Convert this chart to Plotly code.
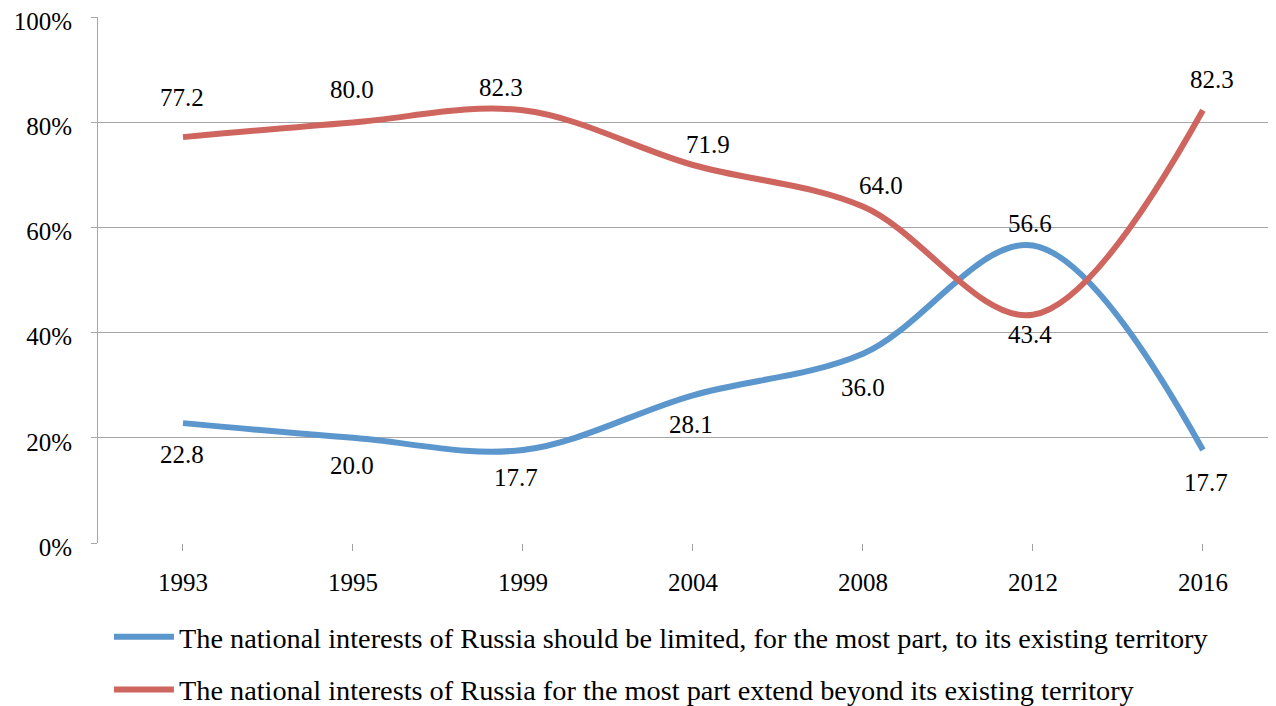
import plotly.graph_objects as go

years = ["1993", "1995", "1999", "2004", "2008", "2012", "2016"]
limited = [22.8, 20.0, 17.7, 28.1, 36.0, 56.6, 17.7]
extend = [77.2, 80.0, 82.3, 71.9, 64.0, 43.4, 82.3]
name_limited = "The national interests of Russia should be limited, for the most part, to its existing territory"
name_extend = "The national interests of Russia for the most part extend beyond its existing territory"

# label offsets (px) as placed in the original
red_dx = [-1, -1, -22, 15, 18, -3, 9]
red_dy = [-40, -33, -23, -21, -21, 20, -31]
blue_dx = [-1, -1, -7, -2, 0, -3, 3]
blue_dy = [31, 28, 28, 29, 34, -22, 33]

BLUE = "#5B96CC"
RED = "#CF655F"
FONT = "'Liberation Serif', 'Times New Roman', Times, serif"
xs = list(range(len(years)))

fig = go.Figure()
fig.add_trace(go.Scatter(x=xs, y=limited, mode="lines", name=name_limited,
                         line=dict(color=BLUE, width=6, shape="spline", smoothing=1),
                         legendgroup="a", hoverinfo="skip"))
fig.add_trace(go.Scatter(x=xs, y=extend, mode="lines", name=name_extend,
                         line=dict(color=RED, width=6, shape="spline", smoothing=1),
                         legendgroup="b", hoverinfo="skip"))

ann = []
for i in xs:
    ann.append(dict(x=i, y=extend[i], text=f"{extend[i]:.1f}", showarrow=False,
                    xshift=red_dx[i], yshift=-red_dy[i], font=dict(family=FONT, size=25, color="black")))
    ann.append(dict(x=i, y=limited[i], text=f"{limited[i]:.1f}", showarrow=False,
                    xshift=blue_dx[i], yshift=-blue_dy[i], font=dict(family=FONT, size=25, color="black")))

fig.update_layout(
    width=1268, height=698,
    margin=dict(l=90, r=0, t=9, b=163, autoexpand=False),
    paper_bgcolor="white", plot_bgcolor="white",
    font=dict(family=FONT, size=25, color="black"),
    annotations=ann,
    showlegend=True,
    legend=dict(x=0.0093, xanchor="left", y=-0.1307, yanchor="top",
                font=dict(family=FONT, size=28.3, color="black"),
                traceorder="grouped", tracegroupgap=13,
                bgcolor="rgba(0,0,0,0)", itemwidth=60),
    xaxis=dict(range=[-0.5, 6.43], tickmode="array", tickvals=xs, ticktext=years,
               showgrid=False, zeroline=False, showline=False,
               ticks="outside", ticklen=7, tickcolor="#A0A0A0", ticklabelstandoff=10,
               tickfont=dict(family=FONT, size=25, color="black")),
    yaxis=dict(range=[0, 100.05], tickmode="array", tickvals=[0, 20, 40, 60, 80, 100],
               ticktext=["0%", "20%", "40%", "60%", "80%", "100%"], showgrid=True,
               gridcolor="#A6A6A6", gridwidth=1, zeroline=False,
               showline=True, linecolor="#A6A6A6", linewidth=1,
               ticks="outside", ticklen=6, tickcolor="#A6A6A6", ticklabelstandoff=14,
               ticklabeloverflow="allow", ticklabelshift=4,
               tickfont=dict(family=FONT, size=25, color="black")),
)

fig.write_html("out.html")
